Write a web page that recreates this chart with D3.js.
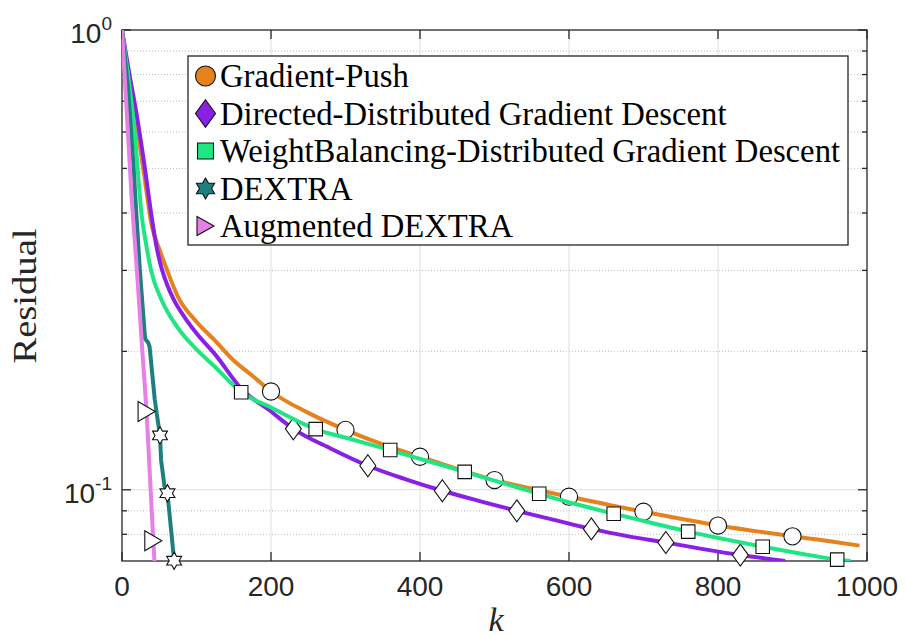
<!DOCTYPE html>
<html><head><meta charset="utf-8">
<script src="https://cdn.jsdelivr.net/npm/d3@7"></script>
<style>body{margin:0;background:#fff}svg{display:block}</style>
</head><body><svg id="c" width="906" height="637"></svg>
<script>
// ---------- data ----------
const seriesNames = ["Gradient-Push","Directed-Distributed Gradient Descent","WeightBalancing-Distributed Gradient Descent","DEXTRA","Augmented DEXTRA"];
const xTickValues = [0,200,400,600,800,1000];
const yMajorTicks = [1,0.1];
const yMajorExps = ["0","-1"];
const yMinorTicks = [0.08,0.09,0.2,0.3,0.4,0.5,0.6,0.7,0.8,0.9];

const gpK = [0,10,20,30,40,50,60,75,100,125,150,175,200,250,300,350,400,450,500,550,600,650,700,750,800,850,900,950,990];
const gpV = [1,0.77,0.62,0.48,0.375,0.334,0.302,0.263,0.232,0.211,0.191,0.177,0.1636,0.147,0.135,0.1255,0.118,0.111,0.105,0.1005,0.0966,0.093,0.0896,0.0865,0.0836,0.0813,0.0792,0.0773,0.0756];
const gpMarkK = [200,300,400,500,600,700,800,900];

const ddK = [0,10,20,30,40,46,52,60,69,85,100,125,160,200,230,280,330,380,430,480,530,580,630,680,730,780,830,890];
const ddV = [1,0.80,0.65,0.51,0.39,0.34,0.308,0.281,0.26,0.236,0.219,0.197,0.166,0.148,0.1357,0.123,0.1128,0.1055,0.0995,0.0945,0.090,0.086,0.0822,0.0792,0.0768,0.0743,0.0721,0.070];
const ddMarkK = [230,330,430,530,630,730,830];

const wbK = [0,8,17,21,26,32,39,53,75,100,125,160,200,260,310,360,410,460,510,560,610,660,710,760,810,860,910,960,978];
const wbV = [1,0.80,0.60,0.50,0.40,0.345,0.30,0.259,0.225,0.202,0.185,0.163,0.151,0.1355,0.1285,0.122,0.1155,0.1094,0.1035,0.098,0.093,0.0887,0.0848,0.0811,0.078,0.0752,0.0727,0.0705,0.070];
const wbMarkK = [160,260,360,460,560,660,760,860,960];

const dxK = [0,8,16,18,24,31,35,37,44,47,51,52.5,57,61,70];
const dxV = [1,0.75,0.49,0.43,0.30,0.213,0.209,0.205,0.157,0.145,0.1313,0.116,0.1018,0.0983,0.0701];
const dxMarkK = [51,61,70];

const adK = [0,13,20,26,33,42,44];
const adV = [1,0.43,0.30,0.215,0.148,0.0775,0.068];
const adMarkK = [33,42];

// ---------- styles ----------
const colors = ["#E6821E","#8A1FE6","#1EE682","#1E7F7F","#E680E6"];
const markers = ["circle","diamond","square","hexagram","triangle"];
const curves = [d3.curveMonotoneX,d3.curveMonotoneX,d3.curveMonotoneX,d3.curveLinear,d3.curveLinear];

const series = [
  {k:gpK,v:gpV,m:gpMarkK},{k:ddK,v:ddV,m:ddMarkK},{k:wbK,v:wbV,m:wbMarkK},
  {k:dxK,v:dxV,m:dxMarkK},{k:adK,v:adV,m:adMarkK}
];

const L=122, R=867, T=30, B=561;
const x = d3.scaleLinear().domain([0,1000]).range([L,R]);
const y = d3.scaleLog().domain([0.07,1]).range([B,T]);
const svg = d3.select("#c");
const axisCol="#262626";
const serif = "'Liberation Serif','Times New Roman',Times,serif";
const sans = "'Liberation Sans',Arial,Helvetica,sans-serif";

svg.append("rect").attr("width",906).attr("height",637).attr("fill","#fff");

// grid
const g = svg.append("g");
g.selectAll(".vg").data(xTickValues.filter(d=>d>0&&d<1000)).enter().append("line")
 .attr("x1",d=>x(d)).attr("x2",d=>x(d)).attr("y1",T).attr("y2",B)
 .attr("stroke","#dedede").attr("stroke-width",1);
g.selectAll(".hg").data(yMajorTicks.filter(d=>d<1)).enter().append("line")
 .attr("x1",L).attr("x2",R).attr("y1",d=>y(d)).attr("y2",d=>y(d))
 .attr("stroke","#dedede").attr("stroke-width",1);
g.selectAll(".mg").data(yMinorTicks).enter().append("line")
 .attr("x1",L).attr("x2",R).attr("y1",d=>y(d)).attr("y2",d=>y(d))
 .attr("stroke","#bdbdbd").attr("stroke-width",1).attr("stroke-dasharray","1,2");

// axes box + ticks
const ax = svg.append("g").attr("stroke",axisCol).attr("stroke-width",1.3).attr("fill","none");
ax.append("rect").attr("x",L).attr("y",T).attr("width",R-L).attr("height",B-T);
xTickValues.forEach(d=>{
  ax.append("line").attr("x1",x(d)).attr("x2",x(d)).attr("y1",B).attr("y2",B-9);
  ax.append("line").attr("x1",x(d)).attr("x2",x(d)).attr("y1",T).attr("y2",T+9);
});
yMajorTicks.forEach(d=>{
  ax.append("line").attr("x1",L).attr("x2",L+9).attr("y1",y(d)).attr("y2",y(d));
  ax.append("line").attr("x1",R).attr("x2",R-9).attr("y1",y(d)).attr("y2",y(d));
});
yMinorTicks.forEach(d=>{
  ax.append("line").attr("x1",L).attr("x2",L+5).attr("y1",y(d)).attr("y2",y(d));
  ax.append("line").attr("x1",R).attr("x2",R-5).attr("y1",y(d)).attr("y2",y(d));
});

// tick labels
svg.selectAll(".xl").data(xTickValues).enter().append("text")
 .attr("x",d=>x(d)).attr("y",596).attr("text-anchor","middle")
 .attr("font-family",sans).attr("font-size",28).attr("fill",axisCol)
 .text(d=>d);
yMajorTicks.forEach((d,i)=>{
  const t = svg.append("text").attr("x",112).attr("y",y(d)+13).attr("text-anchor","end")
   .attr("font-family",sans).attr("font-size",28).attr("fill",axisCol);
  t.append("tspan").text("10");
  t.append("tspan").attr("dy",-13).attr("font-size",19).text(yMajorExps[i]);
});

// axis labels
svg.append("text").attr("transform","translate(36,296) rotate(-90)").attr("text-anchor","middle")
 .attr("font-family",serif).attr("font-size",33).attr("fill",axisCol)
 .attr("textLength",135).attr("lengthAdjust","spacingAndGlyphs").text("Residual");
svg.append("text").attr("x",496).attr("y",631).attr("text-anchor","middle")
 .attr("font-family",serif).attr("font-style","italic")
 .attr("font-size",34).attr("fill",axisCol).text("k");

// marker paths
function markerPath(type, s){
  if(type==="circle"){ const r=s.r; return `M${-r},0A${r},${r} 0 1,0 ${r},0A${r},${r} 0 1,0 ${-r},0Z`; }
  if(type==="diamond"){ return `M0,${-s.h}L${s.w},0L0,${s.h}L${-s.w},0Z`; }
  if(type==="square"){ const a=s.a/2; return `M${-a},${-a}H${a}V${a}H${-a}Z`; }
  if(type==="hexagram"){ const Rr=s.R, rr=s.R/Math.sqrt(3); const p=[];
    for(let i=0;i<12;i++){ const ang=-Math.PI/2+i*Math.PI/6; const rad=i%2===0?Rr:rr; p.push([rad*Math.cos(ang),rad*Math.sin(ang)]); }
    return "M"+p.map(q=>q[0].toFixed(2)+","+q[1].toFixed(2)).join("L")+"Z"; }
  if(type==="triangle"){ return `M${-s.w/2},${-s.h/2}L${s.w/2},0L${-s.w/2},${s.h/2}Z`; }
}
const plotSize = {circle:{r:8.6},diamond:{w:8,h:11},square:{a:13.5},hexagram:{R:8.6},triangle:{w:17,h:20}};
const legSize = {circle:{r:10},diamond:{w:10,h:13.7},square:{a:16},hexagram:{R:10.5},triangle:{w:17,h:19}};

// clip
svg.append("clipPath").attr("id","clip").append("rect").attr("x",L).attr("y",T).attr("width",R-L).attr("height",B-T);

const dataG = svg.append("g");
series.forEach((s,i)=>{
  const pts = s.k.map((k,j)=>[k,s.v[j]]);
  const line = d3.line().x(d=>x(d[0])).y(d=>y(d[1])).curve(curves[i]);
  dataG.append("path").attr("d",line(pts)).attr("clip-path","url(#clip)")
   .attr("fill","none").attr("stroke",colors[i]).attr("stroke-width",4).attr("stroke-linejoin","round");
  s.m.forEach(mk=>{
    const j = s.k.indexOf(mk);
    dataG.append("path").attr("d",markerPath(markers[i],plotSize[markers[i]]))
     .attr("transform",`translate(${x(mk)},${y(s.v[j])})`)
     .attr("fill","#fff").attr("stroke","#111").attr("stroke-width",1.1);
  });
});

// legend
const lg = svg.append("g");
lg.append("rect").attr("x",188).attr("y",56).attr("width",660).attr("height",189)
 .attr("fill","#fff").attr("stroke",axisCol).attr("stroke-width",1.3);
seriesNames.forEach((n,i)=>{
  const cy = 76 + i*37.5;
  lg.append("path").attr("d",markerPath(markers[i],legSize[markers[i]]))
   .attr("transform",`translate(205.5,${cy})`).attr("fill",colors[i]).attr("stroke","#111").attr("stroke-width",1.1);
  lg.append("text").attr("x",220).attr("y",cy+11)
   .attr("font-family",serif).attr("font-size",32.7).attr("fill","#000").text(n);
});
</script></body></html>
